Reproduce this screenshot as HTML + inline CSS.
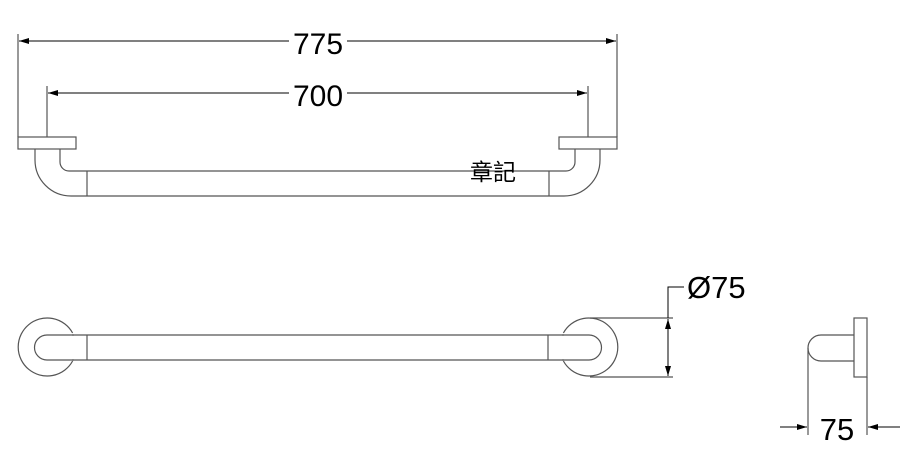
<!DOCTYPE html>
<html><head><style>body{margin:0;background:#fff}svg{display:block}</style></head><body>
<svg width="904" height="467" viewBox="0 0 904 467" xmlns="http://www.w3.org/2000/svg">
<defs>
<marker id="a" viewBox="0 0 10 6" refX="10" refY="3" markerWidth="14" markerHeight="6" markerUnits="userSpaceOnUse" orient="auto"><path d="M0,0 L10,3 L0,6 Z" fill="#000"/></marker>
</defs>
<g fill="none" stroke="#555" stroke-width="1.2">
<line x1="18" y1="34" x2="18" y2="137"/><line x1="617" y1="34" x2="617" y2="137"/>
<line x1="47" y1="86" x2="47" y2="137"/><line x1="588" y1="86" x2="588" y2="137"/>
<rect x="18" y="137" width="58" height="12"/><rect x="559" y="137" width="58" height="12"/>
<path d="M35,149 V160 A36,36 0 0 0 71,196 H564 A36,36 0 0 0 600,160 V149"/>
<path d="M60,149 V162 A9,9 0 0 0 69,171 H566 A9,9 0 0 0 575,162 V149"/>
<line x1="87" y1="171" x2="87" y2="196"/><line x1="549" y1="171" x2="549" y2="196"/>
<path d="M72.6,333 A29,29 0 1 0 72.6,361"/>
<path d="M563.4,333 A29,29 0 1 1 563.4,361"/>
<path d="M74,335 H47 A12.5,12.5 0 0 0 47,360 H74"/>
<path d="M562,335 H589 A12.5,12.5 0 0 1 589,360 H562"/>
<path d="M72,335 H564 M72,360 H564"/>
<line x1="87" y1="335" x2="87" y2="360"/><line x1="548" y1="335" x2="548" y2="360"/>
<line x1="590" y1="318" x2="673" y2="318"/><line x1="590" y1="377" x2="673" y2="377"/>
<rect x="854" y="318" width="13" height="59"/>
<path d="M854,335 H821 A13,13 0 0 0 821,361 H854"/>
<line x1="808" y1="348" x2="808" y2="435"/><line x1="867" y1="377" x2="867" y2="435"/>
</g>
<g stroke="#000" stroke-width="1" fill="none">
<line x1="289" y1="41" x2="19" y2="41" marker-end="url(#a)"/>
<line x1="347" y1="41" x2="616" y2="41" marker-end="url(#a)"/>
<line x1="289" y1="93" x2="48" y2="93" marker-end="url(#a)"/>
<line x1="347" y1="93" x2="587" y2="93" marker-end="url(#a)"/>
<line x1="668" y1="348" x2="668" y2="319" marker-end="url(#a)"/>
<line x1="668" y1="348" x2="668" y2="376" marker-end="url(#a)"/>
<path d="M668,318 V287 H684"/>
<line x1="780" y1="427" x2="807" y2="427" marker-end="url(#a)"/>
<line x1="900" y1="427" x2="868" y2="427" marker-end="url(#a)"/>
</g>
<g font-family="Liberation Sans, sans-serif" font-size="30" fill="#000">
<text x="318" y="54" text-anchor="middle">775</text>
<text x="318" y="106" text-anchor="middle">700</text>
<text x="687" y="298" font-size="31">Ø75</text>
<text x="837" y="440" text-anchor="middle" font-size="31">75</text>
</g>
<text x="470" y="180" font-family="Liberation Sans, 'Noto Sans CJK TC', sans-serif" font-size="23" fill="#000">章記</text>
</svg>
</body></html>
